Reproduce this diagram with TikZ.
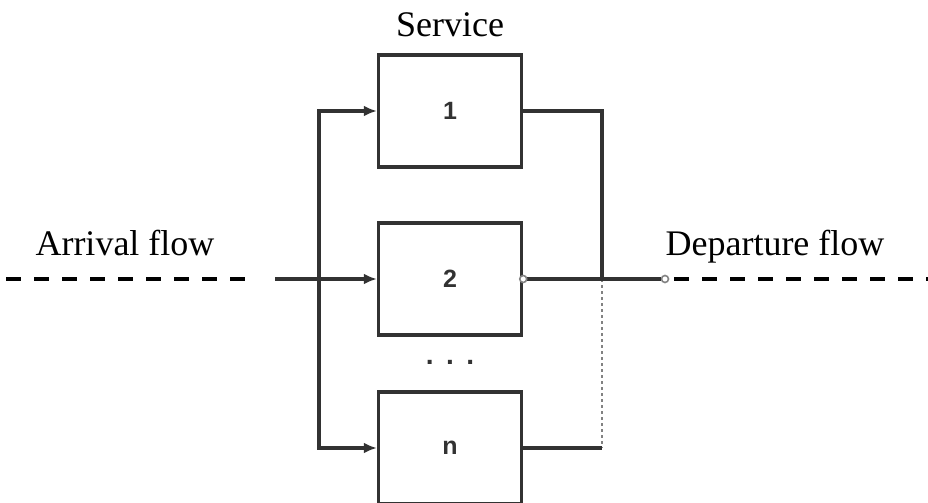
\documentclass[tikz,border=0pt]{standalone}
\usepackage{fontspec}
\setmainfont{Liberation Serif}
\newfontfamily\boxfont{Liberation Sans}
\usetikzlibrary{arrows.meta,positioning,calc}
\definecolor{linegray}{RGB}{50,50,50}
\definecolor{dotgray}{RGB}{130,130,130}
\tikzset{
  srvbox/.style={draw=linegray,line width=1.7pt,minimum width=71.5pt,minimum height=56pt,
    inner sep=0pt,font=\boxfont\fontsize{12.5}{14}\selectfont\bfseries,text=linegray},
  feed/.style={-{Latex[length=6.5pt,width=5.5pt]},line width=1.7pt,draw=linegray},
  wire/.style={line width=1.7pt,draw=linegray},
  dotwire/.style={line width=1.4pt,draw=dotgray,dash pattern=on 1.4pt off 1.6pt},
  dashflow/.style={line width=2.4pt,draw=black,dash pattern=on 7.5pt off 6.5pt},
  port/.style={circle,draw=dotgray,fill=white,line width=0.8pt,inner sep=0pt,minimum size=3.5pt},
  flowlabel/.style={font=\fontsize{18}{21}\selectfont,anchor=base,inner sep=0pt}
}
\begin{document}
\begin{tikzpicture}[x=0.5pt,y=-0.5pt]
  \useasboundingbox (0,0) rectangle (928,503);
  % servers
  \node[srvbox] (s1) at (450,111) {1};
  \node[srvbox] (s2) at (450,279) {2};
  \node[srvbox] (sn) at (450,448) {n};
  \node[font=\boxfont\fontsize{14}{16}\selectfont\bfseries,text=linegray] (dots) at (450,362) {.\ \,.\ \,.};
  \coordinate (lbus) at (319,0);
  \coordinate (rbus) at (602,0);
  \coordinate (arr) at (275,279);
  \node[port] (dep) at (665,279) {};
  \coordinate (arrL) at (6,279);
  \coordinate (arrR) at (254,279);
  \coordinate (depR) at (928,279);
  % labels
  \node[flowlabel] (svc) at (450,37) {Service};
  \node[flowlabel] (arrtxt) at (125,255) {Arrival flow};
  \node[flowlabel] (deptxt) at (775,255) {Departure flow};
  % input side
  \draw[dashflow] (arrL) -- (arrR);
  \draw[feed] (arr) -- (s2.west);
  \draw[feed] (s2.west -| lbus) |- (s1.west);
  \draw[feed] (s2.west -| lbus) |- (sn.west);
  % output side
  \draw[wire] (s1.east) -| (s2.east -| rbus);
  \draw[dotwire] (s2.east -| rbus) -- (sn.east -| rbus);
  \draw[wire] (sn.east) -- (sn.east -| rbus);
  \draw[wire] (s2.east) -- (dep);
  \node[port] (s2out) at (s2.east) {};
  \draw[dashflow] (dep.east) ++(5,0) coordinate (depL) (depL) -- (depR);
\end{tikzpicture}
\end{document}
